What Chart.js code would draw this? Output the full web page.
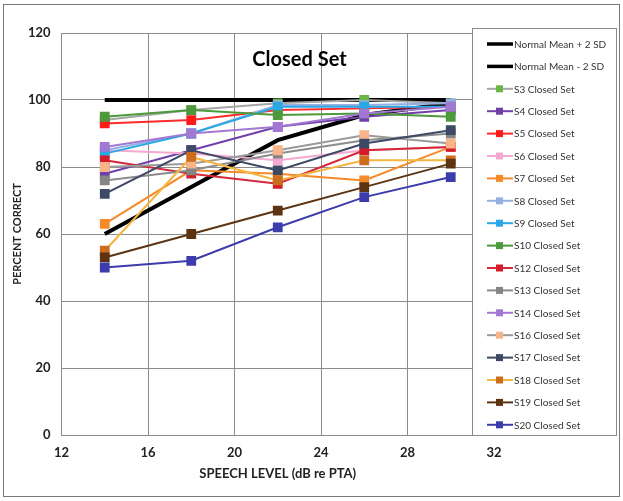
<!DOCTYPE html>
<html>
<head>
<meta charset="utf-8">
<script src="https://cdn.jsdelivr.net/npm/chart.js@4.4.1/dist/chart.umd.min.js"></script>
<style>
  body { margin: 0; background: #fff; }
  #wrap { position: relative; width: 623px; height: 501px; }
</style>
</head>
<body>
<div id="wrap"><canvas id="closed-set"></canvas></div>
<script>
// speech levels (dB re PTA)
const xLevels = [14, 18, 22, 26, 30];
const xTicks = [12, 16, 20, 24, 28, 32];
const yTicks = [0, 20, 40, 60, 80, 100, 120];

const meanPlus2SD = [100, 100, 100, 100, 100];
const meanMinus2SD = [60, 74, 88, 95.5, 99];
const s3 = [94, 97, 99, 100, 99];
const s4 = [78, 85, 92, 95, 97];
const s5 = [93, 94, 97, 97.5, 98];
const s6 = [85, 84, 82, 85, 86];
const s7 = [63, 79, 78, 76, 86];
const s8 = [85, 90, 98.5, 98.5, 99];
const s9 = [84, 90, 98, 98, 98];
const s10 = [95, 97, 95.5, 96, 95];
const s12 = [82, 78, 75, 85, 86];
const s13 = [76, 79, 84, 88, 90];
const s14 = [86, 90, 92, 96, 98];
const s16 = [80, 81, 85, 89.5, 87];
const s17 = [72, 85, 79, 87, 91];
const s18 = [55, 83, 76, 82, 82];
const s19 = [53, 60, 67, 74, 81];
const s20 = [50, 52, 62, 71, 77];

const FONT = "Lato, 'Open Sans', sans-serif";

function toPoints(values) {
  return values.map((v, i) => ({ x: xLevels[i], y: v }));
}

function normLine(label, values) {
  return {
    label: label,
    data: toPoints(values),
    borderColor: "#000",
    backgroundColor: "#000",
    borderWidth: 4,
    pointRadius: 0,
    tension: 0
  };
}

function subject(label, values, line, marker) {
  return {
    label: label,
    data: toPoints(values),
    borderColor: line,
    backgroundColor: marker,
    pointBackgroundColor: marker,
    pointBorderColor: marker,
    borderWidth: 2,
    pointStyle: "rect",
    pointRadius: 5.5,
    tension: 0
  };
}

const datasets = [
  normLine("Normal Mean + 2 SD", meanPlus2SD),
  normLine("Normal Mean - 2 SD", meanMinus2SD),
  subject("S3 Closed Set", s3, "#a6a6a6", "#6cb547"),
  subject("S4 Closed Set", s4, "#7040a8", "#7040a8"),
  subject("S5 Closed Set", s5, "#ff2a2a", "#ff1a1a"),
  subject("S6 Closed Set", s6, "#f4a8d2", "#f4a8d2"),
  subject("S7 Closed Set", s7, "#f58a2a", "#f58a2a"),
  subject("S8 Closed Set", s8, "#95b0e0", "#95b0e0"),
  subject("S9 Closed Set", s9, "#2aa8e6", "#2aa8e6"),
  subject("S10 Closed Set", s10, "#4c9a3c", "#4c9a3c"),
  subject("S12 Closed Set", s12, "#d42838", "#d41c2c"),
  subject("S13 Closed Set", s13, "#8c8c8c", "#858585"),
  subject("S14 Closed Set", s14, "#a278d2", "#a278d2"),
  subject("S16 Closed Set", s16, "#9a9a9a", "#f8b488"),
  subject("S17 Closed Set", s17, "#3c4a66", "#3c4a66"),
  subject("S18 Closed Set", s18, "#f6b440", "#cc6e1e"),
  subject("S19 Closed Set", s19, "#5c3412", "#5c3412"),
  subject("S20 Closed Set", s20, "#3c3cac", "#3c3cac")
];
// later series are painted on top, as in the original
datasets.forEach((ds, i) => { ds.order = datasets.length - i; });

// frame, inner title and the boxed legend sitting over the plot
const decorations = {
  id: "decorations",
  beforeDraw(chart) {
    const ctx = chart.ctx;
    ctx.save();
    ctx.fillStyle = "#fff";
    ctx.fillRect(0, 0, chart.width, chart.height);
    ctx.restore();
  },
  afterDraw(chart) {
    const ctx = chart.ctx;
    const area = chart.chartArea;
    ctx.save();

    ctx.strokeStyle = "#7a7a7a";
    ctx.lineWidth = 1;
    ctx.strokeRect(3.5, 4.5, 616, 492);

    ctx.fillStyle = "#000";
    ctx.font = "bold 20px " + FONT;
    ctx.textAlign = "center";
    ctx.textBaseline = "middle";
    ctx.fillText("Closed Set", area.left + 238, area.top + 27);

    const box = { left: 472, top: 28, width: 144, height: 407 };
    ctx.fillStyle = "#fff";
    ctx.fillRect(box.left, box.top, box.width, box.height);
    ctx.strokeStyle = "#8a8a8a";
    ctx.strokeRect(box.left + 0.5, box.top + 0.5, box.width, box.height);

    ctx.font = "10px " + FONT;
    ctx.textAlign = "left";
    chart.data.datasets.forEach((ds, i) => {
      const y = 44 + i * 22.4;
      ctx.strokeStyle = ds.borderColor;
      ctx.lineWidth = ds.borderWidth === 4 ? 3.5 : 2;
      ctx.beginPath();
      ctx.moveTo(487, y);
      ctx.lineTo(513, y);
      ctx.stroke();
      if (ds.pointRadius > 0) {
        ctx.fillStyle = ds.pointBackgroundColor;
        ctx.fillRect(496, y - 3.5, 7, 7);
      }
      ctx.fillStyle = "#333";
      ctx.fillText(ds.label, 514, y + 0.5);
    });
    ctx.restore();
  }
};

function drawChart() {
  const canvas = document.querySelector("#closed-set");
  new Chart(canvas, {
    type: "line",
    data: { datasets: datasets },
    options: {
      responsive: true,
      maintainAspectRatio: false,
      animation: false,
      layout: {
        padding: { left: 0, right: 129, top: 33, bottom: 0 }
      },
      scales: {
        x: {
          type: "linear",
          min: 12,
          max: 32,
          afterBuildTicks: scale => { scale.ticks = xTicks.map(v => ({ value: v })); },
          afterFit: scale => { scale.height = 66; },
          grid: { color: "#8c8c8c", drawTicks: false },
          border: { color: "#8c8c8c" },
          ticks: {
            padding: 10,
            color: "#222",
            font: { family: FONT, size: 13, weight: "bold" }
          },
          title: {
            display: true,
            text: "SPEECH LEVEL (dB re PTA)",
            color: "#222",
            padding: { top: 0, bottom: 19 },
            font: { family: FONT, size: 13, weight: "bold" }
          }
        },
        y: {
          min: 0,
          max: 120,
          afterBuildTicks: scale => { scale.ticks = yTicks.map(v => ({ value: v })); },
          afterFit: scale => { scale.width = 61.5; },
          grid: { color: "#8c8c8c", drawTicks: false },
          border: { color: "#8c8c8c" },
          ticks: {
            padding: 11,
            color: "#222",
            font: { family: FONT, size: 13, weight: "bold" }
          },
          title: {
            display: true,
            text: "PERCENT CORRECT",
            color: "#222",
            padding: { top: 11, bottom: 0 },
            font: { family: FONT, size: 11, weight: "bold" }
          }
        }
      },
      plugins: {
        legend: { display: false },
        tooltip: { enabled: false }
      }
    },
    plugins: [decorations]
  });
}

drawChart();
</script>
</body>
</html>
